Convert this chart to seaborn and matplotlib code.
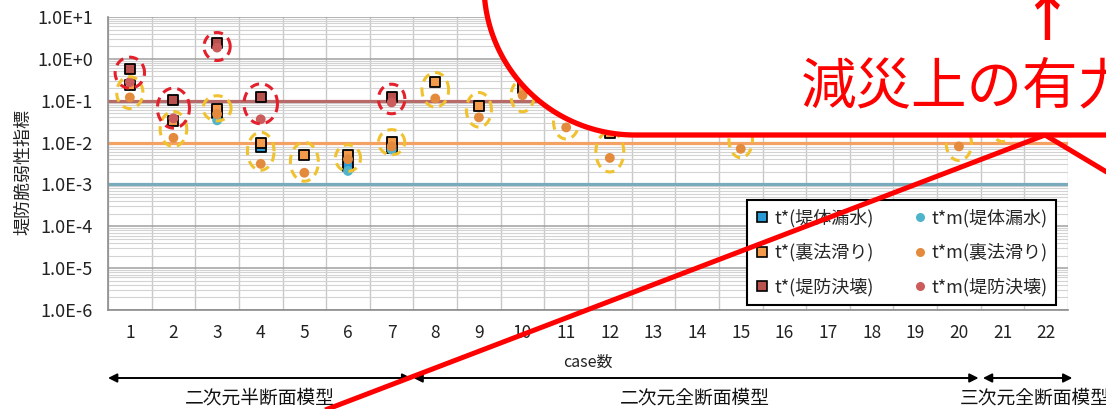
import numpy as np
import pandas as pd
import matplotlib
matplotlib.use("Agg")
import matplotlib.pyplot as plt
import matplotlib.transforms as mtransforms
from matplotlib.lines import Line2D
from matplotlib.patches import Polygon
from matplotlib.ticker import FixedLocator, LogLocator, NullFormatter
import seaborn as sns

# ---------------- data ----------------
cases = list(range(1, 23))
case_labels = [str(c) for c in cases]
nan = np.nan

# t* / t*m values per case (NaN = not evaluated)
t_leak = [nan, nan, 0.05, 0.008, nan, 0.0027, 0.0075] + [nan] * 15
tm_leak = [nan, nan, 0.034, nan, nan, 0.0021, 0.0068] + [nan] * 15
t_slide = [0.24, 0.032, 0.065, 0.0098, 0.0051, 0.0051, 0.0106, 0.287, 0.075, 0.2,
           0.07, 0.017, nan, nan, 0.02, nan, nan, nan, nan, 0.02, nan, nan]
tm_slide = [0.12, 0.013, 0.048, 0.0031, 0.0019, 0.0040, 0.0081, 0.113, 0.040, 0.135,
            0.023, 0.0043, nan, nan, 0.0071, nan, nan, nan, nan, 0.0081, nan, nan]
t_break = [0.57, 0.103, 2.45, 0.12, nan, nan, 0.12] + [nan] * 15
tm_break = [0.28, 0.038, 1.86, 0.036, nan, nan, 0.091] + [nan] * 15

# reference levels of each failure mode
level_names = ["堤防決壊", "裏法滑り", "堤体漏水"]
level_values = [0.1, 0.01, 0.001]

# dashed rings grouping the points of one case
ring_break_cases = [1, 2, 3, 4, 7]
ring_break_centers = [0.468, 0.0665, 1.97, 0.0844, 0.11]
ring_break_halfw = [0.337, 0.367, 0.30, 0.383, 0.303]
ring_break_halfdec = [0.37, 0.477, 0.334, 0.477, 0.353]

ring_slide_cases = [1, 2, 3, 4, 5, 6, 7, 8, 9, 10, 11, 12, 15, 20, 21]
ring_slide_centers = [0.156, 0.0211, 0.0659, 0.0062, 0.00348, 0.00427, 0.0102, 0.182,
                      0.0607, 0.131, 0.0313, 0.006, 0.0117, 0.0094, 0.0266]
ring_slide_halfw = [0.30, 0.305, 0.32, 0.305, 0.32, 0.287, 0.30, 0.305, 0.287, 0.264,
                    0.29, 0.32, 0.27, 0.29, 0.27]
ring_slide_halfdec = [0.38, 0.418, 0.30, 0.453, 0.465, 0.317, 0.30, 0.413, 0.413, 0.38,
                      0.41, 0.48, 0.43, 0.40, 0.40]

ytick_values = [1e-6, 1e-5, 1e-4, 1e-3, 1e-2, 1e-1, 1e0, 1e1]
ytick_labels = ["1.0E-6", "1.0E-5", "1.0E-4", "1.0E-3", "1.0E-2", "1.0E-1", "1.0E+0", "1.0E+1"]

group_names = ["二次元半断面模型", "二次元全断面模型", "三次元全断面模型"]
group_spans = [(0.5, 7.45), (7.5, 20.45), (20.55, 22.6)]

series_names = ["t*(堤体漏水)", "t*m(堤体漏水)", "t*(裏法滑り)", "t*m(裏法滑り)",
                "t*(堤防決壊)", "t*m(堤防決壊)"]
series_values = [t_leak, tm_leak, t_slide, tm_slide, t_break, tm_break]

frames = []
for name, vals in zip(series_names, series_values):
    frames.append(pd.DataFrame({"case": cases, "value": vals, "series": name}))
df = pd.concat(frames, ignore_index=True).dropna()

# ---------------- style ----------------
sns.set_theme(style="white")
plt.rcParams["font.family"] = ["Noto Sans CJK JP", "DejaVu Sans"]
plt.rcParams["axes.unicode_minus"] = False

W, H = 1106, 409
fig = plt.figure(figsize=(W / 100, H / 100), dpi=100)
fig.patch.set_facecolor("white")


def fx(px):
    return px / W


def fy(py):
    return 1 - py / H


ax = fig.add_axes([fx(108), fy(310), 960 / W, 293 / H])
ax.set_facecolor("white")
ax.set_yscale("log")
ax.set_xlim(0.5, 22.5)
ax.set_ylim(1e-6, 1e1)

# grid
ax.yaxis.set_major_locator(FixedLocator(ytick_values))
ax.set_yticklabels(ytick_labels)
ax.yaxis.set_minor_locator(LogLocator(base=10, subs=np.arange(2, 10), numticks=20))
ax.yaxis.set_minor_formatter(NullFormatter())
ax.set_xticks(cases)
ax.set_xticklabels(case_labels)
ax.xaxis.set_minor_locator(FixedLocator(np.arange(0.5, 23, 1.0)))
ax.grid(which="major", axis="y", color="#a0a0a0", lw=1.1, zorder=0)
ax.grid(which="minor", axis="y", color="#d3d3d3", lw=0.8, zorder=0)
ax.grid(which="minor", axis="x", color="#c8c8c8", lw=1.0, zorder=0)
ax.grid(which="major", axis="x", visible=False)
ax.set_axisbelow(True)

ax.tick_params(axis="y", which="major", length=5, width=1, color="#8c8c8c",
               labelsize=13, pad=6, colors="#222222")
ax.tick_params(axis="y", which="minor", length=0)
ax.tick_params(axis="x", which="major", length=0, labelsize=12.5, pad=10, colors="#222222")
ax.tick_params(axis="x", which="minor", length=5, width=1, color="#8c8c8c")
for side in ["top", "right"]:
    ax.spines[side].set_visible(False)
for side in ["left", "bottom"]:
    ax.spines[side].set_color("#8c8c8c")
    ax.spines[side].set_linewidth(1.2)

# reference levels
level_colors = ["#b86a68", "#f4a263", "#79abbd"]
for val, col in zip(level_values, level_colors):
    ax.axhline(val, color=col, lw=2.3, zorder=1.5)

# points
sq_colors = {"t*(堤体漏水)": "#2a9ad4", "t*(裏法滑り)": "#f39a4b", "t*(堤防決壊)": "#b9524f"}
ci_colors = {"t*m(堤体漏水)": "#4fb3cc", "t*m(裏法滑り)": "#e48a3c", "t*m(堤防決壊)": "#cc5b5b"}
for i, name in enumerate(series_names):
    sub = df[df["series"] == name]
    if name in sq_colors:
        sns.scatterplot(data=sub, x="case", y="value", marker="s", s=62,
                        color=sq_colors[name], edgecolor="black", linewidth=1.3,
                        ax=ax, legend=False, zorder=3 + i)
    else:
        sns.scatterplot(data=sub, x="case", y="value", marker="o", s=50,
                        color=ci_colors[name], edgecolor="none", linewidth=0,
                        ax=ax, legend=False, zorder=3 + i)

# dashed rings (ellipses in case / log-decade space)
theta = np.linspace(0, 2 * np.pi, 120)


def ring(cx, cy, hw, hd, color):
    xs = cx + hw * np.cos(theta)
    ys = cy * 10 ** (hd * np.sin(theta))
    ax.plot(xs, ys, color=color, lw=2.2, dashes=(3, 2), zorder=10, solid_capstyle="butt")


for c, v, w, d in zip(ring_slide_cases, ring_slide_centers, ring_slide_halfw, ring_slide_halfdec):
    ring(c, v, w, d, "#f0c230")
for c, v, w, d in zip(ring_break_cases, ring_break_centers, ring_break_halfw, ring_break_halfdec):
    ring(c, v, w, d, "#e3202c")

ax.set_xlabel("case数", fontsize=11.5, color="#222222")
ax.xaxis.set_label_coords(0.5, -0.148)
ax.set_ylabel("堤防脆弱性指標", fontsize=13, color="#222222")
ax.yaxis.set_label_coords(-0.079, 0.47)

# legend
handles = []
order = [0, 2, 4, 1, 3, 5]
for i in order:
    name = series_names[i]
    if name in sq_colors:
        h = Line2D([], [], marker="s", linestyle="none", markersize=7,
                   markerfacecolor=sq_colors[name], markeredgecolor="black", markeredgewidth=1.2)
    else:
        h = Line2D([], [], marker="o", linestyle="none", markersize=6.5,
                   markerfacecolor=ci_colors[name], markeredgecolor="none")
    handles.append(h)
leg = ax.legend(handles, [series_names[i] for i in order], ncol=2,
                loc="upper left", bbox_to_anchor=(fx(747), fy(200)),
                bbox_transform=fig.transFigure, fontsize=13, frameon=True,
                fancybox=False, framealpha=1, edgecolor="black",
                handlelength=0.7, handletextpad=0.3, columnspacing=2.2,
                labelspacing=0.88, borderpad=0.5, borderaxespad=0)
leg.get_frame().set_linewidth(1.5)
leg.set_zorder(20)

# model-type brackets under the axis
trans = mtransforms.blended_transform_factory(ax.transData, fig.transFigure)
label_x = [3.98, 13.96, 21.75]
for (x0, x1), name, lx in zip(group_spans, group_names, label_x):
    ax.annotate("", xy=(x1, fy(378)), xytext=(x0, fy(378)), xycoords=trans,
                textcoords=trans, annotation_clip=False,
                arrowprops=dict(arrowstyle="<|-|>", color="black", lw=1.4,
                                mutation_scale=13, shrinkA=0, shrinkB=0))
    ax.text(lx, fy(398), name, transform=trans, ha="center", va="center",
            fontsize=13.5, color="#111111", clip_on=False)

# callout bubble
t = np.linspace(0, np.pi / 2, 80)
arc_x = 635 - 151 * np.sin(t)
arc_y = -15 + 150 * np.cos(t)
pts = [(1140, 135)] + list(zip(arc_x, arc_y)) + [(484, -60), (1140, -60)]
poly = Polygon([(fx(x), fy(y)) for x, y in pts], closed=True, facecolor="white",
               edgecolor="#ff0000", lw=3.8, transform=fig.transFigure, zorder=30)
fig.add_artist(poly)
for (xa, ya), (xb, yb) in [((1045, 135), (299, 420)), ((1045, 135), (1125, 183))]:
    fig.add_artist(Line2D([fx(xa), fx(xb)], [fy(ya), fy(yb)], color="#ff0000", lw=3.6,
                          transform=fig.transFigure, zorder=31, solid_capstyle="butt"))
fig.text(fx(801), fy(88), "減災上の有力", color="#ff0000", fontsize=40,
         ha="left", va="center", zorder=32)
fig.text(fx(1046), fy(47), "↑", color="#ff0000", fontsize=38, fontweight="bold",
         ha="center", va="bottom", zorder=32)

fig.savefig("out.png", dpi=100, facecolor="white")
